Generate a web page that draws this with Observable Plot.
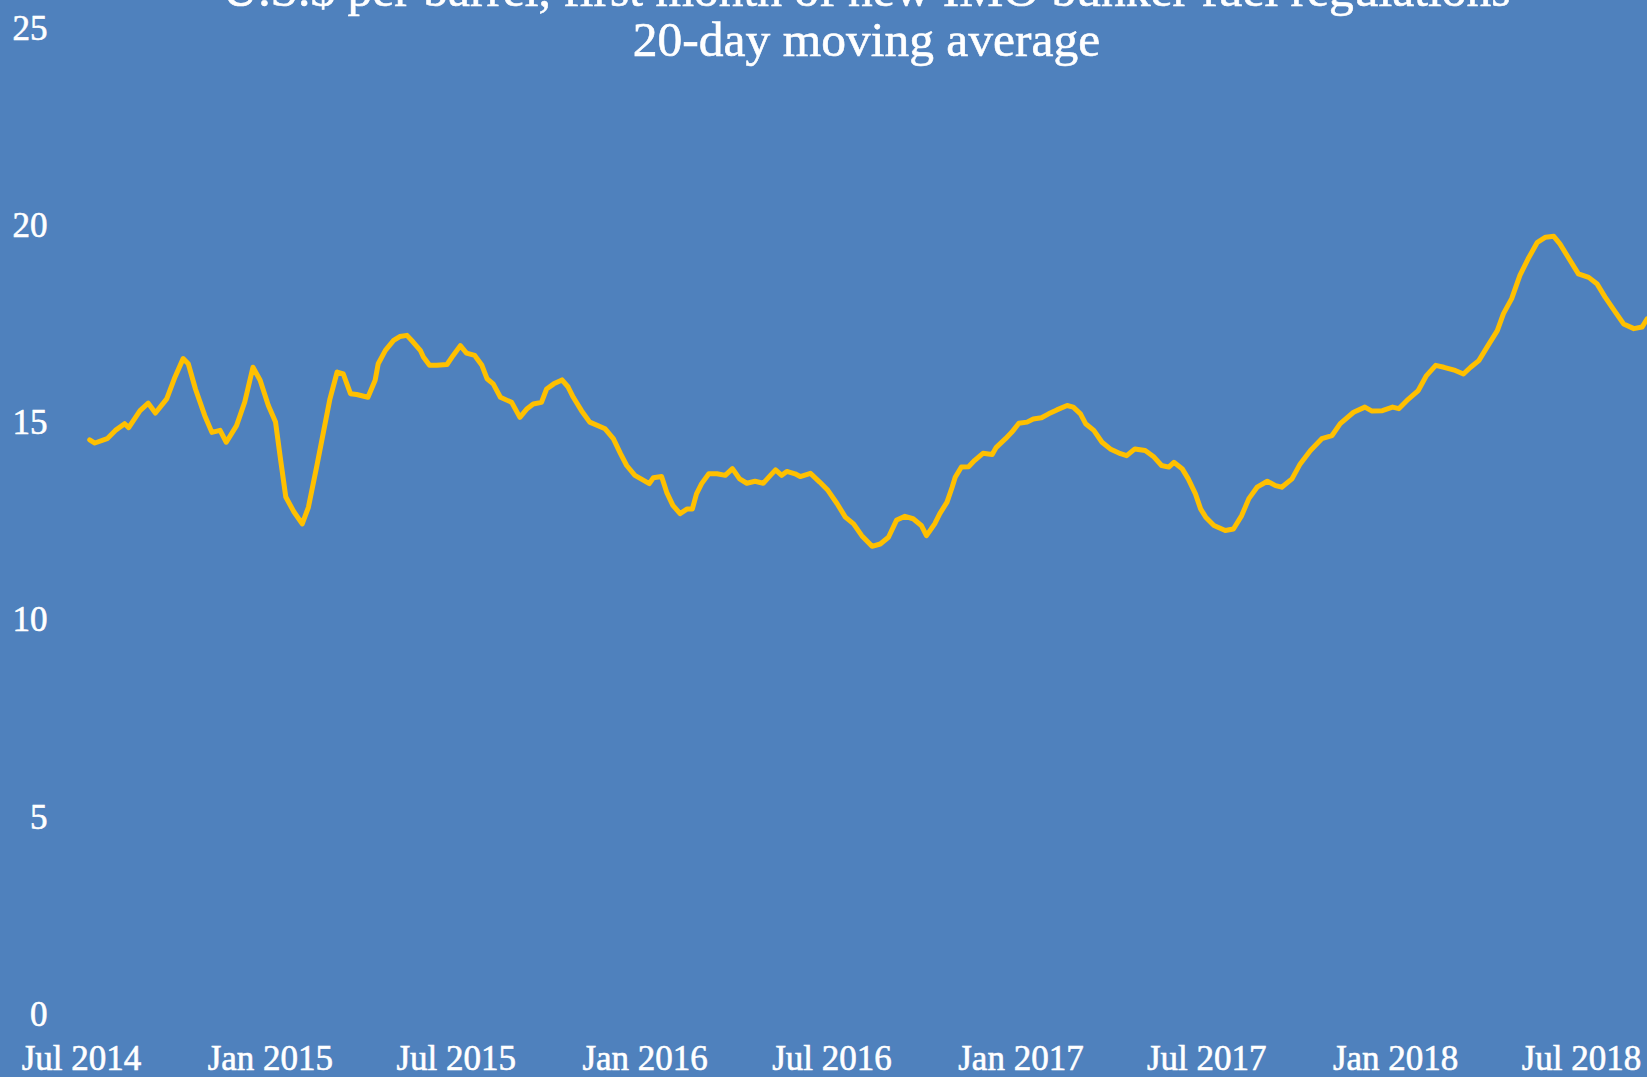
<!DOCTYPE html>
<html>
<head>
<meta charset="utf-8">
<script src="https://cdn.jsdelivr.net/npm/d3@7"></script>
<script src="https://cdn.jsdelivr.net/npm/@observablehq/plot@0.6"></script>
<style>
  html, body { margin: 0; padding: 0; background: #4F81BD; overflow: hidden; }
  #wrap { position: relative; width: 1647px; height: 1077px; }
  #title { position: absolute; top: -35px; left: 86px; right: 0; text-align: center;
           font-family: "Liberation Serif", serif; font-size: 49.5px; line-height: 50px; color: #fff; z-index: 2;
           -webkit-text-stroke: 0.6px #fff; }
  #chart { position: absolute; top: 0; left: 0; }
  #chart svg text { stroke: #fff; stroke-width: 0.6px; }
</style>
</head>
<body>
<div id="wrap">
  <div id="title">
    <div>U.S.$ per barrel, first month of new IMO bunker fuel regulations</div>
    <div>20-day moving average</div>
  </div>
  <div id="chart"></div>
</div>
<script>
// 20-day moving average, U.S.$ per barrel
const dates = [
  "2014-07-09","2014-07-14","2014-07-26","2014-08-03","2014-08-12","2014-08-16","2014-08-27","2014-09-04",
  "2014-09-11","2014-09-22","2014-09-30","2014-10-08","2014-10-13","2014-10-20","2014-10-29","2014-11-05",
  "2014-11-13","2014-11-19","2014-11-29","2014-12-07","2014-12-15","2014-12-22","2014-12-30","2015-01-06",
  "2015-01-11","2015-01-16","2015-01-24","2015-02-01","2015-02-07","2015-02-15","2015-02-21","2015-02-28",
  "2015-03-07","2015-03-13","2015-03-20","2015-03-26",
  "2015-04-06","2015-04-13","2015-04-16","2015-04-23","2015-05-01","2015-05-07","2015-05-14","2015-05-20",
  "2015-05-27","2015-05-30","2015-06-05","2015-06-12","2015-06-22","2015-06-28","2015-07-05","2015-07-11",
  "2015-07-19","2015-07-26","2015-07-31","2015-08-06","2015-08-13","2015-08-24","2015-09-01","2015-09-08",
  "2015-09-14","2015-09-22","2015-09-27","2015-10-04","2015-10-12","2015-10-18","2015-10-23","2015-10-31",
  "2015-11-08","2015-11-23","2015-12-01","2015-12-08","2015-12-14","2015-12-22",
  "2016-01-05","2016-01-09","2016-01-17","2016-01-22","2016-01-28","2016-02-04","2016-02-11","2016-02-16",
  "2016-02-20","2016-02-25","2016-03-03","2016-03-11","2016-03-19","2016-03-26","2016-04-02","2016-04-09",
  "2016-04-17","2016-04-25","2016-05-02","2016-05-07","2016-05-13","2016-05-18","2016-05-26","2016-05-31",
  "2016-06-10","2016-06-19","2016-06-27","2016-07-06","2016-07-14","2016-07-22","2016-07-30","2016-08-09",
  "2016-08-17","2016-08-25","2016-09-02","2016-09-10","2016-09-18","2016-09-26","2016-10-01",
  "2016-10-09","2016-10-14","2016-10-21","2016-10-26","2016-10-29","2016-11-04","2016-11-11","2016-11-17",
  "2016-11-25","2016-12-04","2016-12-08","2016-12-17","2016-12-23","2016-12-30","2017-01-07","2017-01-13",
  "2017-01-21","2017-01-28","2017-02-05","2017-02-15","2017-02-21","2017-02-28","2017-03-05","2017-03-13",
  "2017-03-21","2017-03-29","2017-04-08","2017-04-14","2017-04-22","2017-05-02","2017-05-10","2017-05-18",
  "2017-05-25","2017-05-30","2017-06-07","2017-06-13","2017-06-20","2017-06-25",
  "2017-06-30","2017-07-08","2017-07-19","2017-07-27","2017-08-04","2017-08-11","2017-08-19","2017-08-29",
  "2017-09-06","2017-09-12","2017-09-22","2017-09-30","2017-10-10","2017-10-21","2017-10-31","2017-11-08",
  "2017-11-21","2017-12-02","2017-12-09","2017-12-19","2017-12-29","2018-01-04","2018-01-12","2018-01-23",
  "2018-01-31","2018-02-09","2018-02-17","2018-02-28","2018-03-08","2018-03-15","2018-03-23","2018-03-31",
  "2018-04-10","2018-04-16","2018-04-24","2018-05-02","2018-05-10","2018-05-19","2018-05-27","2018-06-04",
  "2018-06-10","2018-06-18","2018-06-28","2018-07-08","2018-07-16","2018-07-24","2018-08-03","2018-08-11",
  "2018-08-21","2018-08-29","2018-09-03"
];
const values = [
  14.57,14.49,14.60,14.81,14.98,14.88,15.31,15.50,
  15.25,15.61,16.16,16.63,16.50,15.86,15.19,14.76,
  14.81,14.51,14.93,15.53,16.41,16.08,15.44,15.02,
  14.05,13.12,12.74,12.44,12.86,13.88,14.68,15.61,
  16.29,16.24,15.74,15.72,
  15.65,16.08,16.50,16.84,17.09,17.19,17.22,17.05,
  16.84,16.67,16.46,16.46,16.48,16.71,16.96,16.77,
  16.71,16.46,16.12,15.99,15.65,15.52,15.14,15.36,
  15.48,15.52,15.86,15.99,16.09,15.91,15.65,15.31,
  15.02,14.85,14.60,14.22,13.92,13.67,
  13.46,13.61,13.64,13.24,12.91,12.70,12.82,12.82,
  13.20,13.46,13.71,13.71,13.67,13.84,13.58,13.47,
  13.52,13.47,13.67,13.81,13.67,13.77,13.71,13.64,
  13.72,13.50,13.29,12.95,12.61,12.44,12.14,11.87,
  11.93,12.10,12.54,12.63,12.57,12.40,12.14,
  12.44,12.70,12.99,13.37,13.62,13.88,13.89,14.05,
  14.23,14.20,14.38,14.60,14.76,14.99,15.02,15.10,
  15.13,15.23,15.33,15.44,15.40,15.23,14.98,14.81,
  14.51,14.34,14.22,14.17,14.34,14.30,14.15,13.92,
  13.88,14.00,13.84,13.58,13.20,12.82,
  12.61,12.40,12.27,12.31,12.65,13.08,13.37,13.52,
  13.41,13.37,13.58,13.96,14.30,14.60,14.68,14.98,
  15.27,15.40,15.30,15.31,15.40,15.36,15.57,15.82,
  16.20,16.46,16.41,16.33,16.24,16.41,16.58,16.92,
  17.34,17.77,18.15,18.74,19.16,19.58,19.71,19.73,
  19.54,19.20,18.78,18.69,18.53,18.19,17.81,17.51,
  17.39,17.43,17.64
];
const xTickLabels = ["2014-07-01","2015-01-01","2015-07-01","2016-01-01","2016-07-01","2017-01-01","2017-07-01","2018-01-01","2018-07-01"];
const yTicks = [0, 5, 10, 15, 20, 25];

const data = dates.map((d, i) => ({date: new Date(d), value: values[i]}));
const xTicks = xTickLabels.map(d => new Date(d));

const chart = Plot.plot({
  width: 1647,
  height: 1077,
  marginLeft: 81,
  marginRight: 0,
  marginTop: 0,
  marginBottom: 63,
  style: {background: "#4F81BD", color: "#ffffff", fontFamily: "Liberation Serif, serif", fontSize: "35px", overflow: "hidden"},
  x: {type: "utc", domain: [xTicks[0], xTicks[xTicks.length - 1]], range: [81, 1581]},
  y: {domain: [0, 25], range: [1014, 28]},
  marks: [
    Plot.axisX({ticks: xTicks, tickFormat: d3.utcFormat("%b %Y"), tickSize: 0, tickPadding: 31, label: null, fontSize: 35, fill: "#ffffff"}),
    Plot.axisY({ticks: yTicks, tickSize: 0, tickPadding: 34, label: null, fontSize: 35, fill: "#ffffff"}),
    Plot.line(data, {x: "date", y: "value", stroke: "#FFC000", strokeWidth: 5, strokeLinejoin: "round", strokeLinecap: "round"})
  ]
});
document.getElementById("chart").appendChild(chart);
</script>
</body>
</html>
